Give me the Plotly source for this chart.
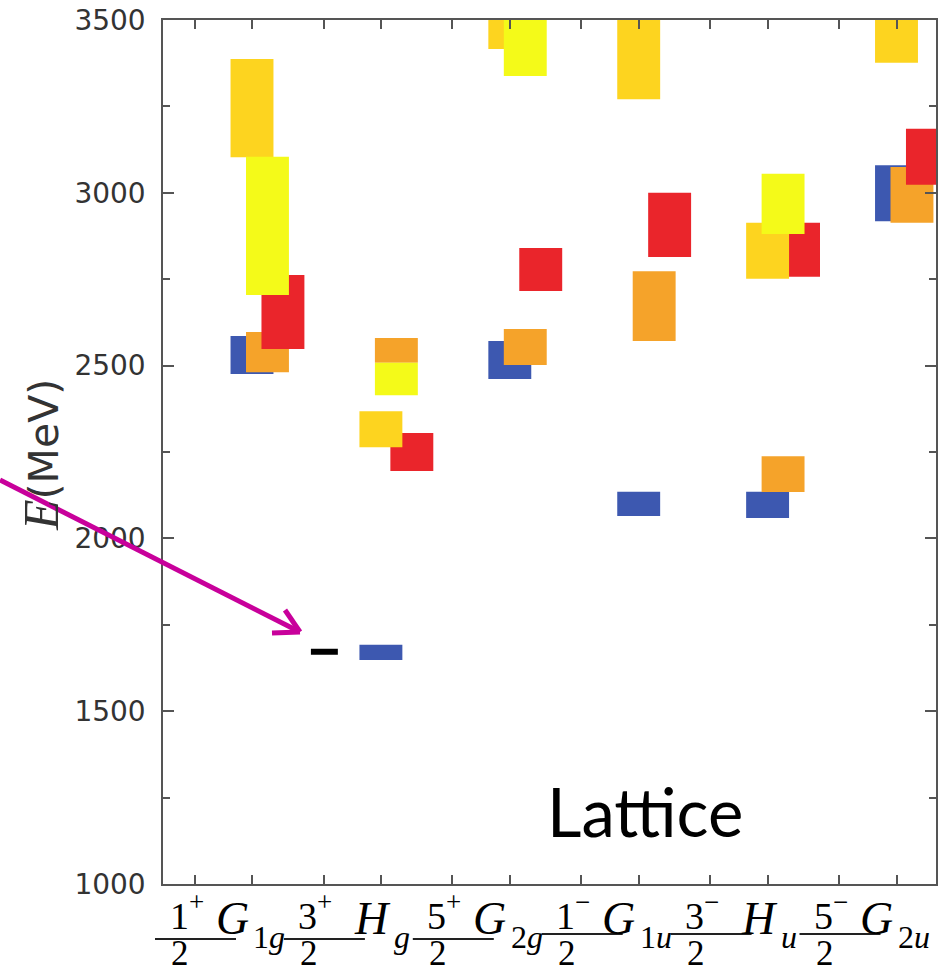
import plotly.graph_objects as go

# Irrep labels along the x axis: J^P fraction followed by the lattice irrep
frac_num = ["1", "3", "5", "1", "3", "5"]
parity = ["+", "+", "+", "\u2212", "\u2212", "\u2212"]
irrep_letter = ["G", "H", "G", "G", "H", "G"]
irrep_sub = ["1<i>g</i>", "<i>g</i>", "2<i>g</i>", "1<i>u</i>", "<i>u</i>", "2<i>u</i>"]

# Energy levels (MeV): centre and half-height of each box, per operator family
blue_E = [2531, 1670, 2516, 2100, 2097, 2999]
blue_dE = [55, 22, 55, 35, 38, 81]
orange_E = [2539, 2544, 2554, 2672, 2186, 2994]
orange_dE = [58, 36, 52, 101, 52, 81]
red_E = [2655, 2250, 2778, 2907, 2835, 3104]
red_dE = [107, 55, 62, 93, 78, 81]
gold_E = [3245, 2316, 3480, 3420, 2832, 3460]
gold_dE = [142, 52, 64, 149, 81, 84]
yellow_E = [2904, 2461, 3440, None, 2968, None]
yellow_dE = [200, 47, 102, None, 87, None]

# Experimental ground state (Omega(1672)) in the 3/2+ channel
exp_E = 1672
exp_cat = 1

y_ticks = [1000, 1500, 2000, 2500, 3000, 3500]

# ---- geometry -------------------------------------------------------------
W, H = 946, 976
ML, MR, MT, MB = 163, 10, 20, 92
PW, PH = W - ML - MR, H - MT - MB
UNIT = 128.9                       # pixels per category step
X0 = -(252 - ML) / UNIT
X1 = X0 + PW / UNIT
BOX_W = 0.333

def xp(x):
    return (x - X0) / (X1 - X0)

def px_x(px):
    return (px - ML) / PW

def px_y(py):
    return (H - MB - py) / PH

fig = go.Figure()

series = [
    (blue_E, blue_dE, "#3d58b0", 0.0),
    (orange_E, orange_dE, "#f5a32a", 0.12),
    (red_E, red_dE, "#ea252b", 0.24),
    (gold_E, gold_dE, "#fdd41f", 0.0),
    (yellow_E, yellow_dE, "#f4fa19", 0.12),
]
for E, dE, col, off in series:
    xs, base, hgt = [], [], []
    for i, (e, d) in enumerate(zip(E, dE)):
        if e is None:
            continue
        xs.append(i + off)
        base.append(e - d)
        hgt.append(2 * d)
    fig.add_trace(go.Bar(x=xs, y=hgt, base=base, width=BOX_W,
                         marker=dict(color=col, line=dict(width=0)),
                         showlegend=False, hoverinfo="skip"))

# experimental level
fig.add_trace(go.Scatter(x=[exp_cat - 0.543, exp_cat - 0.334], y=[exp_E, exp_E],
                         mode="lines", line=dict(color="black", width=6),
                         showlegend=False, hoverinfo="skip"))

fig.update_layout(
    width=W, height=H, barmode="overlay",
    margin=dict(l=ML, r=MR, t=MT, b=MB, pad=0, autoexpand=False),
    plot_bgcolor="white", paper_bgcolor="white",
    showlegend=False,
)

tick_x = []
for i in range(6):
    tick_x += [i - 0.445, i]

fig.update_xaxes(range=[X0, X1], tickvals=tick_x, ticktext=[""] * len(tick_x),
                 ticks="inside", ticklen=9, tickwidth=1.5, tickcolor="#555",
                 showline=True, linecolor="#555", linewidth=1.5, mirror="ticks",
                 showgrid=False, zeroline=False, showticklabels=False,
                 automargin=False)
fig.update_yaxes(range=[1000, 3500], tickvals=y_ticks,
                 ticktext=[str(v) for v in y_ticks],
                 ticks="inside", ticklen=11, tickwidth=1.5, tickcolor="#555",
                 minor=dict(dtick=250, ticks="inside", ticklen=7, tickwidth=1.5,
                            tickcolor="#555", showgrid=False),
                 showline=True, linecolor="#555", linewidth=1.5, mirror="ticks",
                 showgrid=False, zeroline=False, automargin=False,
                 tickfont=dict(family="DejaVu Sans", size=28, color="#333"),
                 ticklabelstandoff=10)

ann = []
shapes = []
serif = "Liberation Serif"
for i in range(6):
    pos = parity[i] == "+"
    bar_dy = 55 if pos else 50
    den_dy = 69
    ann.append(dict(x=i - 73 / UNIT, y=0, xref="x", yref="paper", yshift=-32,
                    text=frac_num[i], showarrow=False, xanchor="center", yanchor="middle",
                    font=dict(family=serif, size=38, color="black")))
    ann.append(dict(x=i - 56 / UNIT, y=0, xref="x", yref="paper", yshift=-18,
                    text=parity[i], showarrow=False, xanchor="center", yanchor="middle",
                    font=dict(family=serif, size=27, color="black")))
    ann.append(dict(x=i - 72 / UNIT, y=0, xref="x", yref="paper", yshift=-den_dy,
                    text="2", showarrow=False, xanchor="center", yanchor="middle",
                    font=dict(family=serif, size=35, color="black")))
    letter_dx = -8 if irrep_letter[i] == "H" else -20
    ann.append(dict(x=i + letter_dx / UNIT, y=0, xref="x", yref="paper", yshift=-34,
                    text="<i>" + irrep_letter[i] + "</i>", showarrow=False,
                    xanchor="center", yanchor="middle",
                    font=dict(family=serif, size=46, color="black")))
    sub_dx = 11 if irrep_letter[i] == "H" else -1
    ann.append(dict(x=i + sub_dx / UNIT, y=0, xref="x", yref="paper", yshift=-53,
                    text=irrep_sub[i], showarrow=False, xanchor="left", yanchor="middle",
                    font=dict(family=serif, size=32, color="black")))
    yb = -bar_dy / PH
    shapes.append(dict(type="line", xref="paper", yref="paper",
                       x0=xp(i - 97 / UNIT), x1=xp(i - 16 / UNIT), y0=yb, y1=yb,
                       line=dict(color="#222", width=1.8)))

# axis title
ann.append(dict(x=px_x(41), y=px_y(455), xref="paper", yref="paper",
                text="<span style='font-family:Liberation Serif;font-size:50px'><i>E</i></span>(MeV)",
                textangle=-90, showarrow=False, xanchor="center", yanchor="middle",
                font=dict(family="DejaVu Sans", size=41, color="#333")))

# panel caption
ann.append(dict(x=px_x(645), y=px_y(811), xref="paper", yref="paper",
                text="Lattice", showarrow=False, xanchor="center", yanchor="middle",
                font=dict(family="Lato", size=67, color="black")))

# pointer to the experimental level
mag = "#c8009b"
arrow_pts = [((0, 480), (298, 631)), ((300, 632), (272, 633)), ((300, 632), (285, 610))]
for (ax0, ay0), (ax1, ay1) in arrow_pts:
    shapes.append(dict(type="line", xref="paper", yref="paper",
                       x0=px_x(ax0), y0=px_y(ay0), x1=px_x(ax1), y1=px_y(ay1),
                       line=dict(color=mag, width=5)))

fig.update_layout(annotations=ann, shapes=shapes)
fig.write_html("out.html")
